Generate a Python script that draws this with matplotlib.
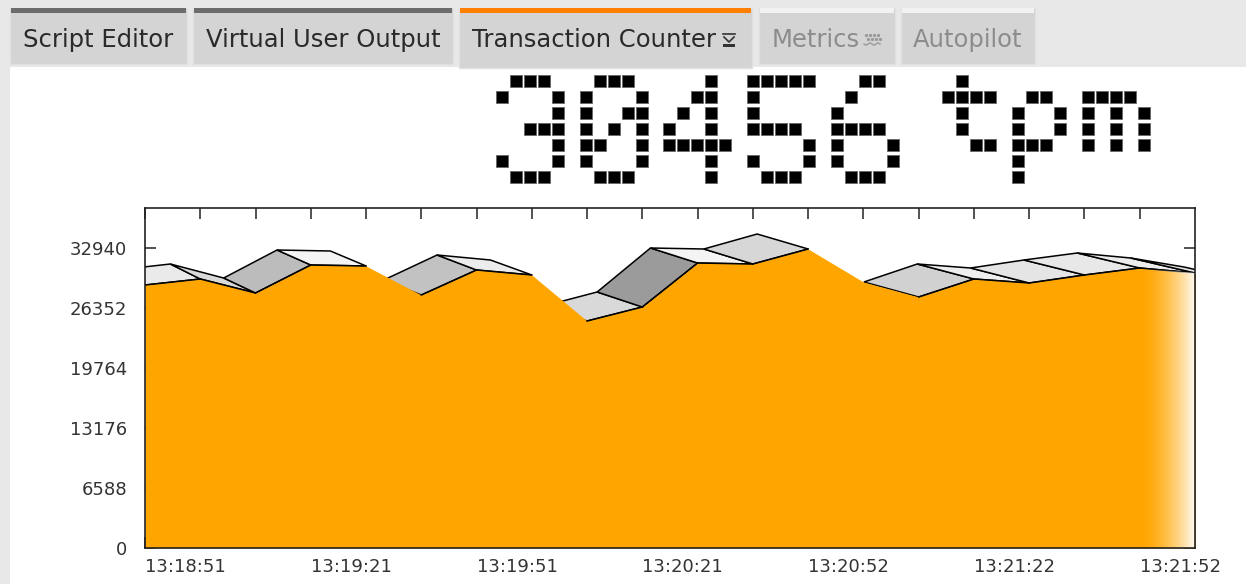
import numpy as np
import matplotlib.pyplot as plt
from matplotlib.patches import Rectangle, Polygon

# values (one sample every ~10 s, last one scrolls past the edge)
tpm = [28877, 29536, 27999, 31073, 30964, 27779, 30524, 29975, 24925, 26462,
       31293, 31183, 32830, 29207, 27560, 29536, 29097, 29975, 30744, 30195,
       29207]
time_labels = ["13:18:51", "13:19:21", "13:19:51", "13:20:21",
               "13:20:52", "13:21:22", "13:21:52"]
y_ticks = [0, 6588, 13176, 19764, 26352, 32940]
y_max = 37332
counter_text = "30456 tpm"
tab_names = ["Script Editor", "Virtual User Output", "Transaction Counter",
             "Metrics", "Autopilot"]
active_tab = "Transaction Counter"
disabled_tabs = ["Metrics", "Autopilot"]

# dot-matrix font used by the counter display
dot_font = {
    "3": ["01110", "10001", "00001", "00111", "00001", "10001", "01110"],
    "0": ["01110", "10001", "10011", "10101", "11001", "10001", "01110"],
    "4": ["00010", "00110", "01010", "10010", "11111", "00010", "00010"],
    "5": ["11111", "10000", "10000", "11110", "00001", "10001", "01110"],
    "6": ["00110", "01000", "10000", "11110", "10001", "10001", "01110"],
    " ": ["0"] * 7,
    "t": ["0100", "1111", "0100", "0100", "0011", "0000", "0000"],
    "p": ["0000", "0110", "1001", "1001", "1110", "1000", "1000"],
    "m": ["00000", "11110", "10101", "10101", "10101", "00000", "00000"],
}

W, H = 1246, 584
fig = plt.figure(figsize=(W / 100, H / 100), dpi=100)
fig.patch.set_facecolor('#e8e8e8')

# ---- window chrome, drawn in pixel coordinates ----
ui = fig.add_axes([0, 0, 1, 1], zorder=0)
ui.set_xlim(0, W)
ui.set_ylim(H, 0)
ui.axis('off')
ui.add_patch(Rectangle((10, 67), W - 10, H - 67, fc='white', ec='none'))

tab_spans = [(10, 187), (193, 453), (459, 752), (759, 895), (901, 1035)]
for name, (x0, x1) in zip(tab_names, tab_spans):
    active = name == active_tab
    off = name in disabled_tabs
    bottom = 68 if active else 64
    ui.add_patch(Rectangle((x0, 8), x1 - x0, bottom - 8, fc='#d4d4d4', ec='#e0e0e0', lw=1))
    stripe = '#ff7f00' if active else ('#f2f2f2' if off else '#6c6c6c')
    ui.add_patch(Rectangle((x0 + 1, 8), x1 - x0 - 2, 5, fc=stripe, ec='none'))
    colr = '#8c8c8c' if off else '#2a2a2a'
    if name == "Transaction Counter":
        ui.text(472, 40, name, fontsize=17.5, color=colr, va='center', ha='left')
    elif name == "Metrics":
        ui.text(772, 40, name, fontsize=17.5, color=colr, va='center', ha='left')
    else:
        ui.text((x0 + x1) / 2, 40, name, fontsize=17.5, color=colr, va='center', ha='center')

# little tab icons
ui.plot([723, 735], [34, 34], color='#333333', lw=1.2)
ui.plot([724, 729, 734], [37, 42, 37], color='#333333', lw=1.2)
ui.add_patch(Rectangle((723, 44), 12, 3, fc='#333333', ec='none'))
for k in range(4):
    ui.plot(866 + 4 * k, 35, 's', ms=1.2, color='#9a9a9a')
    ui.plot(868 + 4 * k, 39, 's', ms=1.2, color='#9a9a9a')
ui.plot(np.linspace(864, 880, 9), 44 + 1.2 * np.sin(np.arange(9) * np.pi / 2),
        color='#9a9a9a', lw=1)

# dot-matrix counter
col = 0
for ch in counter_text:
    rows = dot_font[ch]
    for r, bits in enumerate(rows):
        for c, b in enumerate(bits):
            if b == "1":
                cx = 502 + (col + c) * 13.95
                cy = 81 + r * 16
                ui.add_patch(Rectangle((cx - 6, cy - 6), 12, 12,
                                       fc='black', ec='#666666', lw=0.6))
    col += len(rows[0]) + 1

# ---- the chart ----
ax = fig.add_axes([145 / W, (H - 548) / H, 1050 / W, 340 / H], zorder=1)
ax.set_facecolor('white')
n = len(tpm)
x = np.arange(n)
x_end = n - 2          # last tick on the right spine, the newest sample is off-screen
ax.set_xlim(0, x_end)
ax.set_ylim(0, y_max)

# pseudo 3D ribbon: back edge is the front line pushed up and slightly shrunk to the left
front = ax.transData.transform(np.column_stack([x, tpm]))
back = front.copy()
back[:, 0] = 0.9654 * front[:, 0] - 23
back[:, 1] = front[:, 1] + 15
inv = ax.transData.inverted()
front_d = inv.transform(front)
back_d = inv.transform(back)

visible = []
for i in range(n - 1):
    poly = np.array([front[i], front[i + 1], back[i + 1], back[i]])
    xs, ys = poly[:, 0], poly[:, 1]
    area = 0.5 * np.sum(xs * np.roll(ys, -1) - np.roll(xs, -1) * ys)
    if area <= 20:
        continue
    s = (front[i + 1, 1] - front[i, 1]) / (front[i + 1, 0] - front[i, 0])
    g = float(np.clip(0.965 - 0.45 * abs(s), 0.55, 0.97))
    pd = np.array([front_d[i], front_d[i + 1], back_d[i + 1], back_d[i]])
    ax.add_patch(Polygon(pd, closed=True, fc=(g, g, g), ec='black', lw=1.1,
                         zorder=2, joinstyle='miter'))
    visible.append(i)

fb = ax.fill_between(x, tpm, 0, color='#ffa500', lw=0, zorder=3)
for i in visible:
    ax.plot(x[i:i + 2], tpm[i:i + 2], color='black', lw=1.1, zorder=4)

# fade-out at the right end of the area
t = np.linspace(0, 1, 64)
fade = np.ones((1, 64, 4))
fade[0, :, 3] = 0.97 * t ** 1.6
im = ax.imshow(fade, extent=[x_end - 1, x_end, 0, y_max], aspect='auto', zorder=4.5,
               interpolation='bilinear')
im.set_clip_path(fb.get_paths()[0], ax.transData)
ax.set_xlim(0, x_end)
ax.set_ylim(0, y_max)

ax.set_xticks(np.arange(0, x_end, 3))
ax.set_xticklabels(time_labels, ha='left')
ax.set_xticks(np.arange(1, x_end), minor=True)
ax.set_yticks(y_ticks)
ax.set_yticklabels([str(v) for v in y_ticks])
ax.tick_params(which='both', direction='in', length=8, width=1.1, color='#222222',
               top=True, right=True)
ax.tick_params(axis='x', which='major', labelsize=13, labelcolor='#333333', pad=7)
ax.tick_params(axis='y', labelsize=13, labelcolor='#333333', pad=13)
ax.set_axisbelow(False)
for sp in ax.spines.values():
    sp.set_color('#222222')
    sp.set_linewidth(1.2)
    sp.set_zorder(5)

fig.savefig('out.png', dpi=100, facecolor=fig.get_facecolor())
